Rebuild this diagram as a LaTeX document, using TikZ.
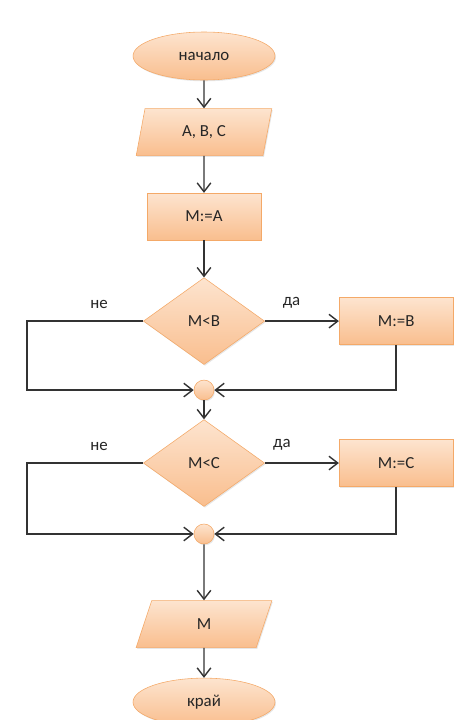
\documentclass[tikz,border=0pt]{standalone}
\usepackage{fontspec}
\setmainfont{Carlito}
\usepackage{xcolor}
\usetikzlibrary{arrows.meta, positioning, shapes.geometric, shadows}

\definecolor{peachtop}{HTML}{FDE4CF}
\definecolor{peachbot}{HTML}{F9BE8E}
\definecolor{peachline}{HTML}{F4A968}

\begin{document}
\begin{tikzpicture}[>={Straight Barb[length=2.2mm, width=3.4mm]}, node distance=0.925cm and 1.85cm,
        % Node Styles
        base/.style={draw=peachline, thin, top color=peachtop, bottom color=peachbot, align=center, font=\fontsize{12}{14}\selectfont, text=black!85, drop shadow={opacity=0.2, shadow xshift=0.7pt, shadow yshift=-0.9pt}},
        term/.style={base, ellipse, minimum width=3.55cm, minimum height=1.2cm},
        io/.style={base, trapezium, trapezium left angle=80, trapezium right angle=100, trapezium stretches=true, minimum width=3.4cm, minimum height=1.175cm},
        proc/.style={base, rectangle, minimum width=2.85cm, minimum height=1.175cm},
        cond/.style={base, diamond, inner sep=0pt, minimum width=3.03cm, minimum height=2.17cm},
        junction/.style={base, circle, inner sep=0pt, minimum size=0.5cm},
        lbl/.style={above=0.18cm, font=\fontsize{12}{14}\selectfont, text=black!85},
        arrow/.style={->, line width=1pt, draw=black!80},
        wire/.style={line width=1pt, draw=black!80}
    ]
    \useasboundingbox (0,0) rectangle (11.6,-18);

    % --- Main column ---
    \node[term] (start) at (5.1,-1.4) {начало};
    \node[io, below=0.7cm of start] (inABC) {A, B, C};
    \node[proc, below=of inABC] (setA) {M:=A};
    \node[cond, below=of setA] (cmpB) {M<B};
    \node[junction, below=0.375cm of cmpB] (joinB) {};
    \node[cond, below=0.475cm of joinB] (cmpC) {M<C};
    \node[junction, below=0.425cm of cmpC] (joinC) {};
    \node[io, below=1.4cm of joinC] (outM) {M};
    \node[term, below=0.75cm of outM] (stop) {край};

    % --- Branch nodes ---
    \node[proc, right=of cmpB] (setB) {M:=B};
    \node[proc, right=of cmpC] (setC) {M:=C};

    % --- Straight flow ---
    \draw[arrow] (start) -- (inABC);
    \draw[arrow] (inABC) -- (setA);
    \draw[arrow] (setA) -- (cmpB);
    \draw[arrow] (joinB) -- (cmpC);
    \draw[arrow] (joinC) -- (outM);
    \draw[arrow] (outM) -- (stop);

    % --- First test ---
    \draw[arrow] (cmpB.west) -- node[lbl, pos=0.38] {не} ++(-2.9,0) |- (joinB.west);
    \draw[arrow] (cmpB.east) -- node[lbl, pos=0.36] {да} (setB.west);
    \draw[arrow] (setB.south) |- (joinB.east);

    % --- Second test ---
    \draw[arrow] (cmpC.west) -- node[lbl, pos=0.38] {не} ++(-2.9,0) |- (joinC.west);
    \draw[arrow] (cmpC.east) -- node[lbl, pos=0.23] {да} (setC.west);
    \draw[arrow] (setC.south) |- (joinC.east);

\end{tikzpicture}
\end{document}
